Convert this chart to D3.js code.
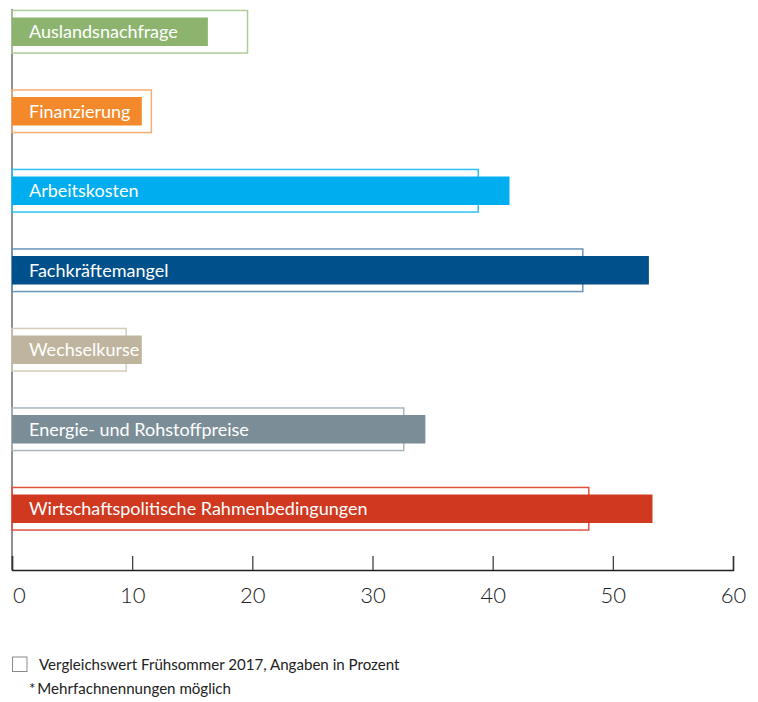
<!DOCTYPE html>
<html>
<head>
<meta charset="utf-8">
<script src="https://cdn.jsdelivr.net/npm/d3@7"></script>
<style>
  html, body { margin: 0; padding: 0; background: #fff; }
  svg { display: block; }
</style>
</head>
<body>
<svg id="chart" width="758" height="702"></svg>
<script>
// ---- data ----
const categories = [
  "Auslandsnachfrage",
  "Finanzierung",
  "Arbeitskosten",
  "Fachkräftemangel",
  "Wechselkurse",
  "Energie- und Rohstoffpreise",
  "Wirtschaftspolitische Rahmenbedingungen"
];
const current2018 = [16.3, 10.8, 41.4, 53.0, 10.8, 34.4, 53.3];
const comparison2017 = [19.6, 11.6, 38.8, 47.5, 9.5, 32.6, 48.0];
const fillColors = ["#8db46f", "#f3892a", "#00aeef", "#00508c", "#bfb59e", "#7b8e98", "#d0381f"];
const outlineColors = ["#afcb98", "#f6ad72", "#2ec0f2", "#6a93b8", "#d4ccb9", "#aab6bd", "#e2533f"];
const tickValues = [0, 10, 20, 30, 40, 50, 60];
const legendText = "Vergleichswert Frühsommer 2017, Angaben in Prozent";
const footnoteText = "*\u2009Mehrfachnennungen möglich";

const data = categories.map((c, i) => ({
  cat: c, cur: current2018[i], prev: comparison2017[i],
  fill: fillColors[i], stroke: outlineColors[i]
}));

// ---- layout ----
const svg = d3.select("#chart");
const FONT = "Lato, 'Open Sans', sans-serif";
const axisY = 570;

const x = d3.scaleLinear().domain([0, 60]).range([12, 733]);
const y = d3.scaleBand().domain(categories).range([-8, 548.5]).padding(0);
const bw = y.bandwidth();
const fillH = 28.5;
const outlineH = 42.6;

// vertical axis line
svg.append("line")
  .attr("x1", x(0)).attr("x2", x(0))
  .attr("y1", 9).attr("y2", axisY)
  .attr("stroke", "#6b6b6b").attr("stroke-width", 1.5);

const rows = svg.append("g").selectAll("g.row")
  .data(data).join("g")
  .attr("class", "row")
  .attr("transform", d => `translate(0,${y(d.cat) + bw / 2})`);

// comparison outline
rows.append("rect")
  .attr("x", x(0))
  .attr("y", -outlineH / 2)
  .attr("width", d => x(d.prev) - x(0))
  .attr("height", outlineH)
  .attr("fill", "none")
  .attr("stroke", d => d.stroke)
  .attr("stroke-width", 1.5);

// current value bar
rows.append("rect")
  .attr("x", x(0))
  .attr("y", -fillH / 2)
  .attr("width", d => x(d.cur) - x(0))
  .attr("height", fillH)
  .attr("fill", d => d.fill);

// category label
rows.append("text")
  .attr("x", x(0) + 17)
  .attr("y", 6.5)
  .attr("fill", "#fff")
  .attr("font-family", FONT)
  .attr("font-size", 18)
  .text(d => d.cat);

// x axis
const xAxis = d3.axisBottom(x).tickValues(tickValues).tickSize(-14).tickPadding(0).tickFormat(d3.format("d"));
const gx = svg.append("g").attr("transform", `translate(0,${axisY})`).call(xAxis);
gx.select(".domain").attr("stroke", "#222").attr("stroke-width", 1.5);
gx.selectAll(".tick line").attr("stroke", "#333").attr("stroke-width", 1.2);
gx.selectAll(".tick text")
  .attr("dy", null)
  .attr("y", 32.5)
  .attr("fill", "#222")
  .attr("font-family", FONT)
  .attr("font-weight", 300)
  .attr("font-size", 22)
  .attr("text-anchor", d => d === 0 ? "start" : "middle")
  .attr("dx", d => d === 0 ? 0.5 : 0);

// legend
svg.append("rect")
  .attr("x", 12.5).attr("y", 657).attr("width", 14.5).attr("height", 14.5)
  .attr("fill", "none").attr("stroke", "#8a8a8a").attr("stroke-width", 1);
svg.append("text")
  .attr("x", 39).attr("y", 669.5)
  .attr("fill", "#222").attr("font-family", FONT).attr("font-size", 15.1)
  .text(legendText);
svg.append("text")
  .attr("x", 29).attr("y", 694)
  .attr("fill", "#222").attr("font-family", FONT).attr("font-size", 15.1)
  .text(footnoteText);
</script>
</body>
</html>
